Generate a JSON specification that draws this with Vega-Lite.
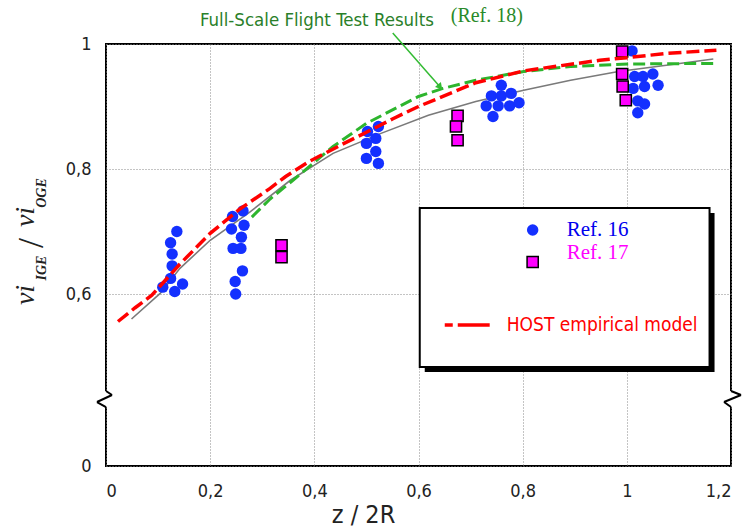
{
  "$schema": "https://vega.github.io/schema/vega-lite/v6.json",
  "width": 625,
  "height": 422,
  "autosize": "none",
  "padding": {"left": 106, "top": 44, "right": 14, "bottom": 65},
  "background": "white",
  "config": {
    "view": {"stroke": "black", "strokeWidth": 2},
    "axis": {
      "labelFont": "DejaVu Sans Condensed, Liberation Sans Narrow, Liberation Sans",
      "labelFontSize": 18,
      "labelColor": "#222",
      "ticks": false,
      "domain": false,
      "grid": true,
      "gridColor": "#888",
      "gridDash": [1, 2],
      "gridWidth": 1,
      "titleFont": "DejaVu Sans Condensed, Liberation Sans Narrow, Liberation Sans",
      "titleFontWeight": "normal",
      "titleColor": "#222"
    }
  },
  "datasets": {
    "points": [
      {"x": 0.136, "y": 0.700, "ref": "Ref. 16"},
      {"x": 0.124, "y": 0.682, "ref": "Ref. 16"},
      {"x": 0.127, "y": 0.664, "ref": "Ref. 16"},
      {"x": 0.127, "y": 0.645, "ref": "Ref. 16"},
      {"x": 0.124, "y": 0.625, "ref": "Ref. 16"},
      {"x": 0.109, "y": 0.611, "ref": "Ref. 16"},
      {"x": 0.132, "y": 0.604, "ref": "Ref. 16"},
      {"x": 0.147, "y": 0.616, "ref": "Ref. 16"},
      {"x": 0.243, "y": 0.724, "ref": "Ref. 16"},
      {"x": 0.263, "y": 0.733, "ref": "Ref. 16"},
      {"x": 0.241, "y": 0.704, "ref": "Ref. 16"},
      {"x": 0.265, "y": 0.710, "ref": "Ref. 16"},
      {"x": 0.260, "y": 0.691, "ref": "Ref. 16"},
      {"x": 0.244, "y": 0.673, "ref": "Ref. 16"},
      {"x": 0.259, "y": 0.673, "ref": "Ref. 16"},
      {"x": 0.262, "y": 0.637, "ref": "Ref. 16"},
      {"x": 0.248, "y": 0.620, "ref": "Ref. 16"},
      {"x": 0.249, "y": 0.600, "ref": "Ref. 16"},
      {"x": 0.523, "y": 0.868, "ref": "Ref. 16"},
      {"x": 0.502, "y": 0.860, "ref": "Ref. 16"},
      {"x": 0.518, "y": 0.849, "ref": "Ref. 16"},
      {"x": 0.500, "y": 0.841, "ref": "Ref. 16"},
      {"x": 0.518, "y": 0.828, "ref": "Ref. 16"},
      {"x": 0.500, "y": 0.817, "ref": "Ref. 16"},
      {"x": 0.523, "y": 0.809, "ref": "Ref. 16"},
      {"x": 0.759, "y": 0.934, "ref": "Ref. 16"},
      {"x": 0.740, "y": 0.917, "ref": "Ref. 16"},
      {"x": 0.759, "y": 0.917, "ref": "Ref. 16"},
      {"x": 0.778, "y": 0.921, "ref": "Ref. 16"},
      {"x": 0.730, "y": 0.901, "ref": "Ref. 16"},
      {"x": 0.753, "y": 0.901, "ref": "Ref. 16"},
      {"x": 0.775, "y": 0.901, "ref": "Ref. 16"},
      {"x": 0.793, "y": 0.906, "ref": "Ref. 16"},
      {"x": 0.743, "y": 0.884, "ref": "Ref. 16"},
      {"x": 1.010, "y": 0.989, "ref": "Ref. 16"},
      {"x": 1.015, "y": 0.948, "ref": "Ref. 16"},
      {"x": 1.031, "y": 0.948, "ref": "Ref. 16"},
      {"x": 1.050, "y": 0.952, "ref": "Ref. 16"},
      {"x": 1.012, "y": 0.929, "ref": "Ref. 16"},
      {"x": 1.034, "y": 0.932, "ref": "Ref. 16"},
      {"x": 1.060, "y": 0.934, "ref": "Ref. 16"},
      {"x": 1.021, "y": 0.909, "ref": "Ref. 16"},
      {"x": 1.034, "y": 0.904, "ref": "Ref. 16"},
      {"x": 1.021, "y": 0.890, "ref": "Ref. 16"},
      {"x": 0.337, "y": 0.678, "ref": "Ref. 17"},
      {"x": 0.337, "y": 0.659, "ref": "Ref. 17"},
      {"x": 0.675, "y": 0.885, "ref": "Ref. 17"},
      {"x": 0.672, "y": 0.868, "ref": "Ref. 17"},
      {"x": 0.675, "y": 0.846, "ref": "Ref. 17"},
      {"x": 0.991, "y": 0.988, "ref": "Ref. 17"},
      {"x": 0.991, "y": 0.952, "ref": "Ref. 17"},
      {"x": 0.992, "y": 0.932, "ref": "Ref. 17"},
      {"x": 0.998, "y": 0.910, "ref": "Ref. 17"}
    ],
    "curves": [
      {"x": 0.023, "y": 0.556, "series": "HOST empirical model"},
      {"x": 0.056, "y": 0.578, "series": "HOST empirical model"},
      {"x": 0.088, "y": 0.598, "series": "HOST empirical model"},
      {"x": 0.142, "y": 0.648, "series": "HOST empirical model"},
      {"x": 0.200, "y": 0.697, "series": "HOST empirical model"},
      {"x": 0.257, "y": 0.736, "series": "HOST empirical model"},
      {"x": 0.315, "y": 0.769, "series": "HOST empirical model"},
      {"x": 0.345, "y": 0.788, "series": "HOST empirical model"},
      {"x": 0.390, "y": 0.812, "series": "HOST empirical model"},
      {"x": 0.450, "y": 0.838, "series": "HOST empirical model"},
      {"x": 0.491, "y": 0.855, "series": "HOST empirical model"},
      {"x": 0.550, "y": 0.880, "series": "HOST empirical model"},
      {"x": 0.600, "y": 0.900, "series": "HOST empirical model"},
      {"x": 0.710, "y": 0.938, "series": "HOST empirical model"},
      {"x": 0.802, "y": 0.957, "series": "HOST empirical model"},
      {"x": 0.948, "y": 0.974, "series": "HOST empirical model"},
      {"x": 1.000, "y": 0.978, "series": "HOST empirical model"},
      {"x": 1.076, "y": 0.985, "series": "HOST empirical model"},
      {"x": 1.172, "y": 0.990, "series": "HOST empirical model"},
      {"x": 0.280, "y": 0.723, "series": "Full-Scale Flight Test Results"},
      {"x": 0.315, "y": 0.752, "series": "Full-Scale Flight Test Results"},
      {"x": 0.359, "y": 0.782, "series": "Full-Scale Flight Test Results"},
      {"x": 0.436, "y": 0.836, "series": "Full-Scale Flight Test Results"},
      {"x": 0.500, "y": 0.873, "series": "Full-Scale Flight Test Results"},
      {"x": 0.600, "y": 0.916, "series": "Full-Scale Flight Test Results"},
      {"x": 0.647, "y": 0.929, "series": "Full-Scale Flight Test Results"},
      {"x": 0.710, "y": 0.942, "series": "Full-Scale Flight Test Results"},
      {"x": 0.802, "y": 0.956, "series": "Full-Scale Flight Test Results"},
      {"x": 0.892, "y": 0.964, "series": "Full-Scale Flight Test Results"},
      {"x": 1.003, "y": 0.968, "series": "Full-Scale Flight Test Results"},
      {"x": 1.172, "y": 0.969, "series": "Full-Scale Flight Test Results"},
      {"x": 0.049, "y": 0.560, "series": "grey curve"},
      {"x": 0.104, "y": 0.601, "series": "grey curve"},
      {"x": 0.142, "y": 0.641, "series": "grey curve"},
      {"x": 0.200, "y": 0.686, "series": "grey curve"},
      {"x": 0.276, "y": 0.731, "series": "grey curve"},
      {"x": 0.354, "y": 0.782, "series": "grey curve"},
      {"x": 0.436, "y": 0.825, "series": "grey curve"},
      {"x": 0.528, "y": 0.857, "series": "grey curve"},
      {"x": 0.619, "y": 0.886, "series": "grey curve"},
      {"x": 0.710, "y": 0.908, "series": "grey curve"},
      {"x": 0.802, "y": 0.926, "series": "grey curve"},
      {"x": 0.892, "y": 0.942, "series": "grey curve"},
      {"x": 0.984, "y": 0.956, "series": "grey curve"},
      {"x": 1.076, "y": 0.966, "series": "grey curve"},
      {"x": 1.166, "y": 0.976, "series": "grey curve"}
    ]
  },
  "layer": [
    {
      "data": {"name": "curves"},
      "transform": [{"filter": "datum.series === 'grey curve'"}],
      "mark": {"type": "line", "color": "#7a7a7a", "strokeWidth": 1.6},
      "encoding": {
        "x": {
          "field": "x",
          "type": "quantitative",
          "scale": {"domain": [0, 1.2], "nice": false, "zero": false},
          "axis": {
            "values": [0, 0.2, 0.4, 0.6, 0.8, 1, 1.2],
            "labelExpr": "replace(format(datum.value, '.2~f'), '.', ',')",
            "labelPadding": 16,
            "title": "z / 2R",
            "titleFontSize": 25,
            "titleX": 257,
            "titleY": 36,
            "titleAlign": "center",
            "titleBaseline": "top"
          }
        },
        "y": {
          "field": "y",
          "type": "quantitative",
          "scale": {"domain": [0, 0.5, 1], "range": [422, 312.5, 0], "nice": false, "zero": false},
          "axis": {
            "values": [0, 0.6, 0.8, 1],
            "labelExpr": "replace(format(datum.value, '.2~f'), '.', ',')",
            "labelPadding": 15,
            "title": null
          }
        }
      }
    },
    {
      "data": {"name": "points"},
      "transform": [{"filter": "datum.ref === 'Ref. 16'"}],
      "mark": {"type": "point", "shape": "circle", "filled": true, "color": "#1430ff", "size": 130, "opacity": 1},
      "encoding": {"x": {"field": "x", "type": "quantitative"}, "y": {"field": "y", "type": "quantitative"}}
    },
    {
      "data": {"name": "points"},
      "transform": [{"filter": "datum.ref === 'Ref. 17'"}],
      "mark": {"type": "point", "shape": "square", "filled": true, "fill": "#ff00ff", "stroke": "black", "strokeWidth": 1.5, "size": 125, "opacity": 1},
      "encoding": {"x": {"field": "x", "type": "quantitative"}, "y": {"field": "y", "type": "quantitative"}}
    },
    {
      "data": {"name": "curves"},
      "transform": [{"filter": "datum.series === 'Full-Scale Flight Test Results'"}],
      "mark": {"type": "line", "color": "#2db52d", "strokeWidth": 3, "strokeDash": [12, 5]},
      "encoding": {"x": {"field": "x", "type": "quantitative"}, "y": {"field": "y", "type": "quantitative"}}
    },
    {
      "data": {"name": "curves"},
      "transform": [{"filter": "datum.series === 'HOST empirical model'"}],
      "mark": {"type": "line", "color": "#ff0000", "strokeWidth": 3.5, "strokeDash": [13, 5]},
      "encoding": {"x": {"field": "x", "type": "quantitative"}, "y": {"field": "y", "type": "quantitative"}}
    },
    {"data": {"values": [{}]}, "mark": {"type": "rect", "fill": "black"},
     "encoding": {"x": {"datum": 0.612, "type": "quantitative"}, "x2": {"datum": 1.1684}, "y": {"datum": 0.7296, "type": "quantitative"}, "y2": {"datum": 0.4292}}},
    {"data": {"values": [{}]}, "mark": {"type": "rect", "fill": "white", "stroke": "black", "strokeWidth": 2},
     "encoding": {"x": {"datum": 0.6024, "type": "quantitative"}, "x2": {"datum": 1.1588}, "y": {"datum": 0.7376, "type": "quantitative"}, "y2": {"datum": 0.452}}},
    {"data": {"values": [{}]}, "mark": {"type": "point", "shape": "circle", "filled": true, "color": "#1430ff", "size": 130, "opacity": 1},
     "encoding": {"x": {"datum": 0.8192, "type": "quantitative"}, "y": {"datum": 0.7024, "type": "quantitative"}}},
    {"data": {"values": [{}]}, "mark": {"type": "point", "shape": "square", "filled": true, "fill": "#ff00ff", "stroke": "black", "strokeWidth": 1.5, "size": 125, "opacity": 1},
     "encoding": {"x": {"datum": 0.8192, "type": "quantitative"}, "y": {"datum": 0.6512, "type": "quantitative"}}},
    {"data": {"values": [{}]}, "mark": {"type": "rule", "color": "#ff0000", "strokeWidth": 3.5, "strokeDash": [8, 5, 32, 5]},
     "encoding": {"x": {"datum": 0.6504, "type": "quantitative"}, "x2": {"datum": 0.7367}, "y": {"datum": 0.5504, "type": "quantitative"}}},
    {"data": {"values": [{}]}, "mark": {"type": "text", "text": "Ref. 16", "font": "Liberation Serif", "fontSize": 21, "color": "#0000ee", "align": "left", "baseline": "middle"},
     "encoding": {"x": {"datum": 0.8844, "type": "quantitative"}, "y": {"datum": 0.7024, "type": "quantitative"}}},
    {"data": {"values": [{}]}, "mark": {"type": "text", "text": "Ref. 17", "font": "Liberation Serif", "fontSize": 21, "color": "#ff00ff", "align": "left", "baseline": "middle"},
     "encoding": {"x": {"datum": 0.8844, "type": "quantitative"}, "y": {"datum": 0.6656, "type": "quantitative"}}},
    {"data": {"values": [{}]}, "mark": {"type": "text", "text": "HOST empirical model", "font": "DejaVu Sans Condensed, Liberation Sans Narrow, Liberation Sans", "fontSize": 19, "color": "#ff0000", "align": "left", "baseline": "middle"},
     "encoding": {"x": {"datum": 0.7694, "type": "quantitative"}, "y": {"datum": 0.5504, "type": "quantitative"}}},
    {"data": {"values": [{}]}, "mark": {"type": "text", "text": "Full-Scale Flight Test Results", "font": "DejaVu Sans Condensed, Liberation Sans Narrow, Liberation Sans", "fontSize": 18.5, "color": "#2a7f2a", "align": "center", "baseline": "middle"},
     "encoding": {"x": {"datum": 0.405, "type": "quantitative"}, "y": {"datum": 1.0384, "type": "quantitative"}}},
    {"data": {"values": [{}]}, "mark": {"type": "text", "text": "(Ref. 18)", "font": "Liberation Serif", "fontSize": 20, "color": "#2a8a2a", "align": "left", "baseline": "middle"},
     "encoding": {"x": {"datum": 0.6619, "type": "quantitative"}, "y": {"datum": 1.0448, "type": "quantitative"}}},
    {"data": {"values": [{}]}, "mark": {"type": "rule", "color": "#33bb33", "strokeWidth": 1.5},
     "encoding": {"x": {"datum": 0.5506, "type": "quantitative"}, "y": {"datum": 1.0176, "type": "quantitative"}, "x2": {"datum": 0.6415}, "y2": {"datum": 0.9312}}},
    {"data": {"values": [{}]}, "mark": {"type": "point", "shape": "triangle-down", "filled": true, "color": "#33bb33", "size": 60, "angle": 319, "opacity": 1},
     "encoding": {"x": {"datum": 0.6415, "type": "quantitative"}, "y": {"datum": 0.9312, "type": "quantitative"}}},
    {"data": {"values": [{}]}, "mark": {"type": "rule", "color": "white", "strokeWidth": 5},
     "encoding": {"x": {"datum": 0, "type": "quantitative"}, "y": {"datum": 0.3425, "type": "quantitative"}, "y2": {"datum": 0.2694}}},
    {"data": {"values": [{}]}, "mark": {"type": "rule", "color": "white", "strokeWidth": 5},
     "encoding": {"x": {"datum": 1.2, "type": "quantitative"}, "y": {"datum": 0.3425, "type": "quantitative"}, "y2": {"datum": 0.2694}}},
    {"data": {"values": [{}]}, "mark": {"type": "rule", "color": "black", "strokeWidth": 2},
     "encoding": {"x": {"datum": 0, "type": "quantitative"}, "y": {"datum": 0.3425, "type": "quantitative"}, "x2": {"datum": 0.0115}, "y2": {"datum": 0.3242}}},
    {"data": {"values": [{}]}, "mark": {"type": "rule", "color": "black", "strokeWidth": 2},
     "encoding": {"x": {"datum": 0.0115, "type": "quantitative"}, "y": {"datum": 0.3242, "type": "quantitative"}, "x2": {"datum": -0.0173}, "y2": {"datum": 0.2922}}},
    {"data": {"values": [{}]}, "mark": {"type": "rule", "color": "black", "strokeWidth": 2},
     "encoding": {"x": {"datum": -0.0173, "type": "quantitative"}, "y": {"datum": 0.2922, "type": "quantitative"}, "x2": {"datum": 0}, "y2": {"datum": 0.2694}}},
    {"data": {"values": [{}]}, "mark": {"type": "rule", "color": "black", "strokeWidth": 2},
     "encoding": {"x": {"datum": 1.2, "type": "quantitative"}, "y": {"datum": 0.3425, "type": "quantitative"}, "x2": {"datum": 1.2192}, "y2": {"datum": 0.3242}}},
    {"data": {"values": [{}]}, "mark": {"type": "rule", "color": "black", "strokeWidth": 2},
     "encoding": {"x": {"datum": 1.2192, "type": "quantitative"}, "y": {"datum": 0.3242, "type": "quantitative"}, "x2": {"datum": 1.1866}, "y2": {"datum": 0.2922}}},
    {"data": {"values": [{}]}, "mark": {"type": "rule", "color": "black", "strokeWidth": 2},
     "encoding": {"x": {"datum": 1.1866, "type": "quantitative"}, "y": {"datum": 0.2922, "type": "quantitative"}, "x2": {"datum": 1.2}, "y2": {"datum": 0.2694}}},
    {"data": {"values": [{}]}, "mark": {"type": "text", "text": "vi", "font": "Liberation Serif", "fontStyle": "italic", "fontSize": 28, "color": "#222", "angle": 270, "align": "center", "baseline": "middle"},
     "encoding": {"x": {"datum": -0.1535, "type": "quantitative"}, "y": {"datum": 0.5984, "type": "quantitative"}}},
    {"data": {"values": [{}]}, "mark": {"type": "text", "text": "IGE", "font": "Liberation Serif", "fontStyle": "italic", "fontWeight": "bold", "fontSize": 14, "color": "#222", "angle": 270, "align": "center", "baseline": "middle"},
     "encoding": {"x": {"datum": -0.123, "type": "quantitative"}, "y": {"datum": 0.6416, "type": "quantitative"}}},
    {"data": {"values": [{}]}, "mark": {"type": "text", "text": "/", "font": "Liberation Serif", "fontSize": 36, "color": "#222", "angle": 270, "align": "center", "baseline": "middle"},
     "encoding": {"x": {"datum": -0.142, "type": "quantitative"}, "y": {"datum": 0.6816, "type": "quantitative"}}},
    {"data": {"values": [{}]}, "mark": {"type": "text", "text": "vi", "font": "Liberation Serif", "fontStyle": "italic", "fontSize": 28, "color": "#222", "angle": 270, "align": "center", "baseline": "middle"},
     "encoding": {"x": {"datum": -0.1535, "type": "quantitative"}, "y": {"datum": 0.7232, "type": "quantitative"}}},
    {"data": {"values": [{}]}, "mark": {"type": "text", "text": "OGE", "font": "Liberation Serif", "fontStyle": "italic", "fontWeight": "bold", "fontSize": 14, "color": "#222", "angle": 270, "align": "center", "baseline": "middle"},
     "encoding": {"x": {"datum": -0.123, "type": "quantitative"}, "y": {"datum": 0.7616, "type": "quantitative"}}}
  ]
}
